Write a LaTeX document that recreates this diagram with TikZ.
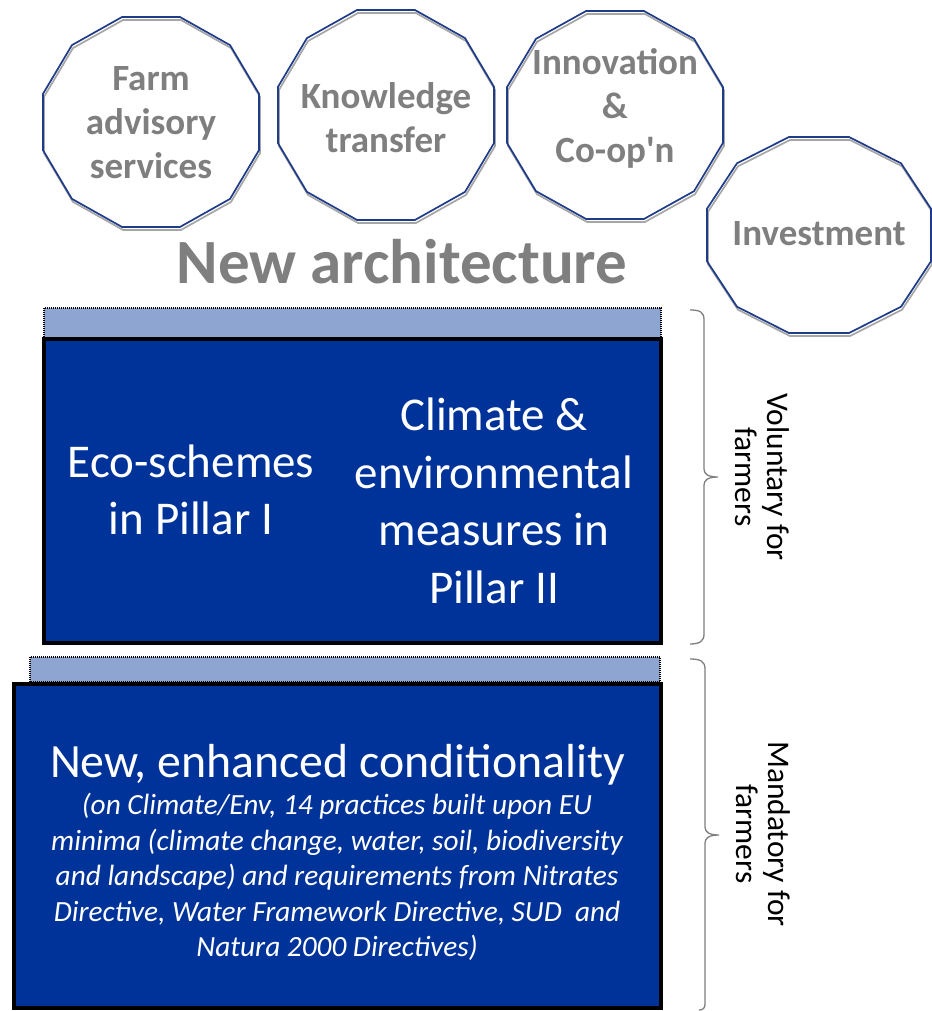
\documentclass[tikz,border=0pt]{standalone}
\usepackage{fontspec}
\setmainfont{Carlito}
\newfontfamily\nomapfont{Carlito}
\usetikzlibrary{calc}
\definecolor{boxblue}{HTML}{003399}
\definecolor{barblue}{HTML}{8EA5D2}
\definecolor{navy}{HTML}{1F3C88}
\definecolor{shade}{HTML}{A6A6A6}
\definecolor{txtgray}{HTML}{7F7F7F}
\definecolor{bracegray}{HTML}{7F7F7F}
\tikzset{
  shadowline/.style={draw=shade, line width=1.7pt},
  outline/.style={draw=navy, line width=1.7pt},
  gtext/.style={align=center, text=txtgray, inner sep=0pt, font=\bfseries\fontsize{37}{44}\selectfont},
  bar/.style={fill=barblue, draw=black, line width=1.4pt, dash pattern=on 1pt off 1pt},
  bigbox/.style={fill=boxblue, draw=black, line width=4pt},
  wtext/.style={align=center, text=white, inner sep=0pt, font=\fontsize{47}{57.5}\selectfont},
  itext/.style={align=center, text=white, inner sep=0pt, font=\itshape\fontsize{29.3}{35.5}\selectfont},
  sidetext/.style={align=center, text=black, inner sep=0pt, rotate=-90, font=\fontsize{31.5}{32}\selectfont},
  bracestyle/.style={draw=bracegray, line width=1.3pt},
}
\newcommand\dodecagon[4]{%
  \draw[shadowline, shift={(#1+1,#2+3)}] plot[samples at={15,45,...,345}] ({#3/0.9659*cos(\x)},{#4/0.9659*sin(\x)}) -- cycle;
  \draw[outline, shift={(#1,#2)}] plot[samples at={15,45,...,345}] ({#3/0.9659*cos(\x)},{#4/0.9659*sin(\x)}) -- cycle;
}
\begin{document}
\begin{tikzpicture}[x=1pt, y=-1pt]
\useasboundingbox (0,0) rectangle (931,1011);
\fill[white] (0,0) rectangle (931,1011);

% top dodecagons
\dodecagon{151}{122}{108}{105}
\dodecagon{386}{115}{108}{105}
\dodecagon{615}{115}{108}{104}
\dodecagon{819}{235}{112}{98}
\node[gtext] (farm) at (151,123) {Farm\\advisory\\services};
\node[gtext] (know) at (386,117.5) {Knowledge\\transfer};
\node[gtext] (innov) at (615,108) {Innovation\\\&\\{\nomapfont Co-op'n}};
\node[gtext] (invest) at (819,234) {Investment};

\node[text=txtgray, inner sep=0pt, font=\bfseries\fontsize{63}{70}\selectfont] (arch) at (402,262) {New architecture};

% voluntary block
\draw[bar] (44,308) rectangle (661,338);
\draw[bigbox] (44,339) rectangle (661,643);
\node[wtext] (eco) at (191,490) {Eco-schemes\\in Pillar I};
\node[wtext] (clim) at (494,501) {Climate \&\\environmental\\measures in\\Pillar II};

% mandatory block
\draw[bar] (30,657) rectangle (660,682);
\draw[bigbox] (14,684) rectangle (661,1008);
\node[wtext, font=\fontsize{47.8}{57.5}\selectfont] (cond) at (337.5,765) {New, enhanced conditionality};
\node[itext] (condtxt) at (337,877) {(on Climate/Env, 14 practices built upon EU\\minima (climate change, water, soil, biodiversity\\and landscape) and requirements from Nitrates\\Directive, Water Framework Directive, SUD\ \ and\\Natura 2000 Directives)};

% braces
\draw[bracestyle] (690,310) .. controls (700,310) and (704,312) .. (704,320) -- (704,469)
  .. controls (704,474) and (708,477) .. (718,477) .. controls (708,477) and (704,480) .. (704,485)
  -- (704,634) .. controls (704,641) and (700,644) .. (690,644);
\draw[bracestyle] (690,659) .. controls (700,659) and (705,661) .. (705,669) -- (705,827)
  .. controls (705,832) and (709,835) .. (719,835) .. controls (709,835) and (705,838) .. (705,843)
  -- (705,1004) .. controls (705,1008) and (703,1010) .. (699,1010);
\node[sidetext] (vol) at (762,477) {Voluntary for\\farmers};
\node[sidetext] (mand) at (763,834) {Mandatory for\\farmers};
\end{tikzpicture}
\end{document}
